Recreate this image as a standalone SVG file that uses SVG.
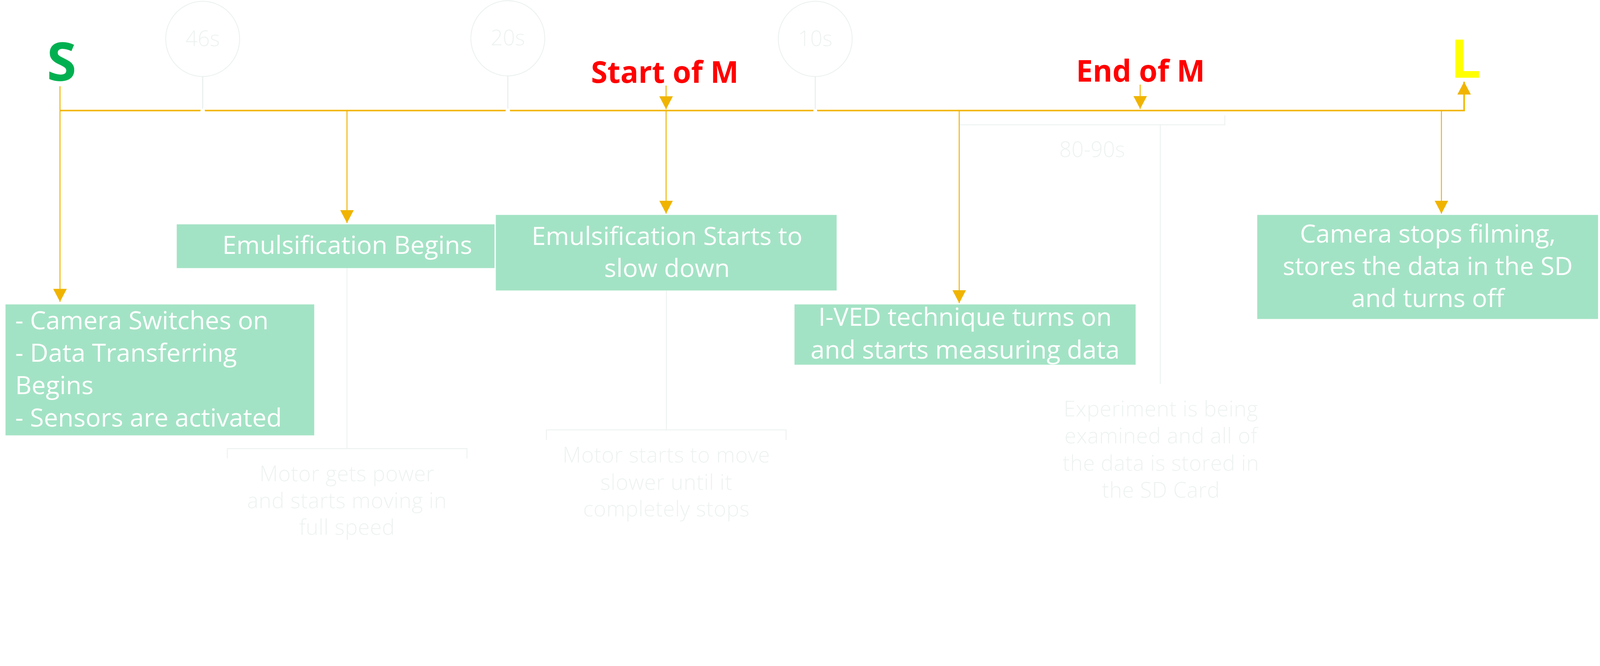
<svg xmlns="http://www.w3.org/2000/svg" width="4934" height="1705" viewBox="0 0 4934 1705">
<defs>
<style>
:root{width:100vw;height:34.5561vw;display:block;}
.box{fill:#A3E3C5;}
.bt{fill:#FFFFFF;font-family:"Open Sans","Noto Sans","DejaVu Sans",sans-serif;font-size:78px;}
.mid{text-anchor:middle;}
.gt{fill:#EDF3F1;font-family:"Open Sans","Noto Sans","DejaVu Sans",sans-serif;font-size:66px;font-weight:300;text-anchor:middle;}
.gn{letter-spacing:0.8px;}
.gl{fill:none;stroke:#EDF3F1;stroke-width:3;}
.tick{fill:none;stroke:#E6EEEC;stroke-width:3;}
.ln{fill:none;stroke:#F0B400;stroke-width:3;}
.tl{fill:none;stroke:#F2B700;stroke-width:5;}
.red{fill:#FF0000;font-family:"Open Sans","Noto Sans","DejaVu Sans",sans-serif;font-weight:700;font-size:92px;text-anchor:middle;}
.big{font-family:"Open Sans","Noto Sans","DejaVu Sans",sans-serif;font-weight:700;font-size:165px;text-anchor:middle;}
</style>
<marker id="ah" viewBox="0 0 40 42" refX="40" refY="21" markerWidth="40" markerHeight="42" markerUnits="userSpaceOnUse" orient="auto">
<path d="M0,0 L40,21 L0,42 z" fill="#F0B400"/>
</marker>
</defs>
<rect width="4934" height="1705" fill="#FFFFFF"/>

<g id="duration-markers">
<g id="m46">
<ellipse cx="625" cy="120" rx="114" ry="116" class="gl"/>
<line x1="625" y1="236" x2="625" y2="336" class="tick"/>
<text x="625" y="142" class="gt" font-size="70">46s</text>
</g>
<g id="m20">
<ellipse cx="1566" cy="118" rx="114" ry="116" class="gl"/>
<line x1="1566" y1="234" x2="1566" y2="336" class="tick"/>
<text x="1566" y="140" class="gt">20s</text>
</g>
<g id="m10">
<ellipse cx="2514" cy="120" rx="114" ry="116" class="gl"/>
<line x1="2514" y1="236" x2="2514" y2="336" class="tick"/>
<text x="2514" y="142" class="gt">10s</text>
</g>
<g id="m8090">
<path d="M2958,356 V385 H3777 V356" class="gl"/>
<line x1="3578" y1="385" x2="3578" y2="1184" class="gl"/>
<text x="3368" y="484" class="gt">80-90s</text>
</g>
</g>

<g id="connectors">
<path d="M185,341 H4515 V252" class="tl" marker-end="url(#ah)"/>
<circle cx="625" cy="342" r="7" fill="#FFFFFF"/>
<circle cx="1566" cy="342" r="7" fill="#FFFFFF"/>
<circle cx="2514" cy="342" r="6" fill="#FFFFFF"/>
<line x1="185" y1="266" x2="185" y2="931" class="ln" marker-end="url(#ah)"/>
<line x1="1070" y1="341" x2="1070" y2="688" class="ln" marker-end="url(#ah)"/>
<line x1="2054" y1="264" x2="2054" y2="337" class="ln" marker-end="url(#ah)"/>
<line x1="2054" y1="341" x2="2054" y2="659" class="ln" marker-end="url(#ah)"/>
<line x1="2958" y1="341" x2="2958" y2="935" class="ln" marker-end="url(#ah)"/>
<line x1="3516" y1="261" x2="3516" y2="336" class="ln" marker-end="url(#ah)"/>
<line x1="4445" y1="341" x2="4445" y2="659" class="ln" marker-end="url(#ah)"/>
<line x1="1070" y1="827" x2="1070" y2="1384" class="gl"/>
<path d="M701,1414 V1384 H1440 V1414" class="gl"/>
<line x1="2055" y1="896" x2="2055" y2="1326" class="gl"/>
<path d="M1685,1357 V1326 H2424 V1357" class="gl"/>
</g>

<g id="label-S"><text x="190" y="250" class="big" fill="#00B050">S</text></g>
<g id="label-L"><text x="4520" y="240" class="big" fill="#FFFF00">L</text></g>
<g id="label-startM"><text x="2050" y="255" class="red">Start of M</text></g>
<g id="label-endM"><text x="3517" y="252" class="red">End of M</text></g>

<g id="box1">
<rect x="17" y="939" width="952" height="404" class="box"/>
<text class="bt" x="47" y="1016">- Camera Switches on</text>
<text class="bt" x="47" y="1116">- Data Transferring</text>
<text class="bt" x="47" y="1216">Begins</text>
<text class="bt" x="47" y="1316">- Sensors are activated</text>
</g>
<g id="box2">
<rect x="545" y="692" width="980" height="135" class="box"/>
<text class="bt mid" x="1071" y="783">Emulsification Begins</text>
</g>
<g id="box3">
<rect x="1529" y="663" width="1051" height="233" class="box"/>
<text class="bt mid" x="2057" y="755">Emulsification Starts to</text>
<text class="bt mid" x="2057" y="854">slow down</text>
</g>
<g id="box4">
<rect x="2450" y="939" width="1052" height="186" class="box"/>
<text class="bt mid" x="2976" y="1005">I-VED technique turns on</text>
<text class="bt mid" x="2976" y="1106">and starts measuring data</text>
</g>
<g id="box5">
<rect x="3877" y="663" width="1051" height="321" class="box"/>
<text class="bt mid" x="4403" y="748">Camera stops filming,</text>
<text class="bt mid" x="4403" y="848">stores the data in the SD</text>
<text class="bt mid" x="4403" y="947">and turns off</text>
</g>

<g id="note1">
<text class="gt gn" x="1070" y="1484">Motor gets power</text>
<text class="gt gn" x="1070" y="1568">and starts moving in</text>
<text class="gt gn" x="1070" y="1649">full speed</text>
</g>
<g id="note2">
<text class="gt gn" x="2055" y="1427">Motor starts to move</text>
<text class="gt gn" x="2055" y="1511">slower until it</text>
<text class="gt gn" x="2055" y="1593">completely stops</text>
</g>
<g id="note3">
<text class="gt gn" x="3580" y="1285">Experiment is being</text>
<text class="gt gn" x="3580" y="1368">examined and all of</text>
<text class="gt gn" x="3580" y="1452">the data is stored in</text>
<text class="gt gn" x="3580" y="1535">the SD Card</text>
</g>
</svg>
